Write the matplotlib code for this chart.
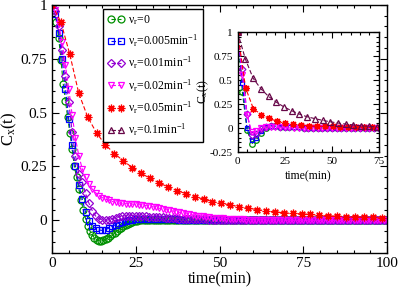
import numpy as np
import matplotlib.pyplot as plt
from matplotlib.ticker import MultipleLocator

plt.rcParams['font.family'] = ['Liberation Serif', 'DejaVu Serif']
plt.rcParams['mathtext.fontset'] = 'custom'
plt.rcParams['mathtext.rm'] = 'Liberation Serif'
plt.rcParams['mathtext.it'] = 'Liberation Serif:italic'

labels = ['ν$_{\\mathrm{r}}$=0',
          'ν$_{\\mathrm{r}}$=0.005min$^{\\mathrm{-1}}$',
          'ν$_{\\mathrm{r}}$=0.01min$^{\\mathrm{-1}}$',
          'ν$_{\\mathrm{r}}$=0.02min$^{\\mathrm{-1}}$',
          'ν$_{\\mathrm{r}}$=0.05min$^{\\mathrm{-1}}$',
          'ν$_{\\mathrm{r}}$=0.1min$^{\\mathrm{-1}}$']
colors = ['#009000', '#0000ff', '#9400d3', '#ff00ff', '#ff0000', '#670748']
markers = ['o', 's', 'D', 'v', (8, 2, 0), '^']

# ---- main panel data ----
t_green = np.arange(151) * 2 / 3
v_green = [1.0, 0.975, 0.92, 0.845, 0.745, 0.635, 0.555, 0.48, 0.405, 0.33,
           0.25, 0.2, 0.145, 0.095, 0.048, 0.008, -0.025, -0.05, -0.068, -0.082,
           -0.091, -0.095, -0.095, -0.092, -0.087, -0.08, -0.073, -0.065, -0.057, -0.049,
           -0.041, -0.034, -0.027, -0.021, -0.016, -0.011, -0.007, -0.004, -0.002, 0.0,
           0.001, 0.002, 0.002, 0.002, 0.002, 0.002, 0.002, 0.002, 0.002, 0.002,
           0.002, 0.002, 0.002, 0.002, 0.002, 0.001, 0.001, 0.001, 0.001, 0.001,
           0.001, 0.001, 0.001, 0.001, 0.001, 0.001, 0.001, 0.001, 0.001, 0.001,
           0.001, 0.001, 0.001, 0.001, 0.001, 0.0, 0.0, 0.0, 0.0, 0.0,
           0.0, 0.0, 0.0, 0.0, 0.0, 0.0, 0.0, 0.0, 0.0, 0.0,
           0.0, 0.0, 0.0, 0.0, 0.0, 0.0, 0.0, 0.0, 0.0, 0.0,
           0.0, 0.0, 0.0, 0.0, 0.0, 0.0, 0.0, 0.0, 0.0, 0.0,
           0.0, 0.0, 0.0, 0.0, 0.0, 0.0, 0.0, 0.0, 0.0, 0.0,
           0.0, 0.0, 0.0, 0.0, 0.0, 0.0, 0.0, 0.0, 0.0, 0.0,
           0.0, 0.0, 0.0, 0.0, 0.0, 0.0, 0.0, 0.0, 0.0, 0.0,
           0.0, 0.0, 0.0, 0.0, 0.0, 0.0, 0.0, 0.0, 0.0, 0.0,
           0.0]

t_min = np.arange(101)
v_blue = [1.0, 0.96, 0.87, 0.75, 0.61, 0.47, 0.35, 0.25, 0.165, 0.1,
          0.038, -0.002, -0.025, -0.038, -0.045, -0.047, -0.043, -0.036, -0.028, -0.02,
          -0.013, -0.007, -0.002, 0.001, 0.003, 0.005, 0.006, 0.006, 0.006, 0.006,
          0.005, 0.005, 0.005, 0.005, 0.004, 0.004, 0.004, 0.004, 0.003, 0.003,
          0.003, 0.003, 0.003, 0.002, 0.002, 0.002, 0.002, 0.002, 0.002, 0.002,
          0.001, 0.001, 0.001, 0.001, 0.001, 0.001, 0.001, 0.001, 0.001, 0.001,
          0.001, 0.001, 0.001, 0.0, 0.0, 0.0, 0.0, 0.0, 0.0, 0.0,
          0.0, 0.0, 0.0, 0.0, 0.0, 0.0, 0.0, 0.0, 0.0, 0.0,
          0.0, 0.0, 0.0, 0.0, 0.0, 0.0, 0.0, 0.0, 0.0, 0.0,
          0.0, 0.0, 0.0, 0.0, 0.0, 0.0, 0.0, 0.0, 0.0, 0.0,
          0.0]
v_purple = [1.0, 0.97, 0.9, 0.79, 0.67, 0.55, 0.41, 0.3, 0.215, 0.18,
            0.125, 0.08, 0.045, 0.02, 0.008, 0.002, 0.0, 0.002, 0.007, 0.012,
            0.016, 0.019, 0.021, 0.022, 0.022, 0.021, 0.02, 0.019, 0.018, 0.017,
            0.016, 0.015, 0.014, 0.013, 0.012, 0.011, 0.01, 0.009, 0.008, 0.008,
            0.007, 0.006, 0.006, 0.005, 0.005, 0.004, 0.004, 0.003, 0.003, 0.003,
            0.002, 0.002, 0.002, 0.002, 0.001, 0.001, 0.001, 0.001, 0.001, 0.001,
            0.001, 0.001, 0.0, 0.0, 0.0, 0.0, 0.0, 0.0, 0.0, 0.0,
            0.0, 0.0, 0.0, 0.0, 0.0, 0.0, 0.0, 0.0, 0.0, 0.0,
            0.0, 0.0, 0.0, 0.0, 0.0, 0.0, 0.0, 0.0, 0.0, 0.0,
            0.0, 0.0, 0.0, 0.0, 0.0, 0.0, 0.0, 0.0, 0.0, 0.0,
            0.0]
v_magenta = [1.0, 0.975, 0.91, 0.83, 0.72, 0.61, 0.49, 0.38, 0.3, 0.24,
             0.2, 0.168, 0.145, 0.128, 0.115, 0.105, 0.098, 0.092, 0.087, 0.083,
             0.08, 0.078, 0.077, 0.076, 0.075, 0.074, 0.072, 0.071, 0.068, 0.066,
             0.063, 0.06, 0.056, 0.053, 0.049, 0.046, 0.043, 0.04, 0.037, 0.034,
             0.03, 0.028, 0.025, 0.022, 0.02, 0.018, 0.016, 0.014, 0.012, 0.011,
             0.01, 0.009, 0.008, 0.007, 0.006, 0.005, 0.004, 0.004, 0.003, 0.003,
             0.002, 0.002, 0.002, 0.002, 0.001, 0.001, 0.001, 0.001, 0.001, 0.001,
             0.0, 0.0, 0.0, 0.0, 0.0, 0.0, 0.0, 0.0, 0.0, 0.0,
             0.0, 0.0, 0.0, 0.0, 0.0, 0.0, 0.0, 0.0, 0.0, 0.0,
             0.0, 0.0, 0.0, 0.0, 0.0, 0.0, 0.0, 0.0, 0.0, 0.0,
             0.0]

t_red = np.arange(38) * 2.66
v_red = [1.0, 0.92, 0.77, 0.59, 0.48, 0.405, 0.35, 0.31, 0.276, 0.245,
         0.218, 0.195, 0.174, 0.155, 0.138, 0.124, 0.11, 0.098, 0.087, 0.079,
         0.071, 0.063, 0.056, 0.05, 0.044, 0.039, 0.035, 0.032, 0.03, 0.027,
         0.024, 0.021, 0.019, 0.017, 0.016, 0.014, 0.013, 0.011]

# ---- inset data ----
t_in = np.arange(31) * 2.5
vi_green = [1.0, 0.38, -0.02, -0.165, -0.12, -0.05, 0.0, 0.02, 0.02, 0.015,
            0.01, 0.008, 0.007, 0.006, 0.005, 0.005, 0.005, 0.004, 0.004, 0.004,
            0.003, 0.003, 0.003, 0.003, 0.002, 0.002, 0.002, 0.002, 0.002, 0.002, 0.002]
vi_blue = [1.0, 0.47, 0.0, -0.12, -0.1, -0.03, 0.015, 0.025, 0.02, 0.015,
           0.01, 0.008, 0.007, 0.006, 0.005, 0.005, 0.005, 0.004, 0.004, 0.004,
           0.003, 0.003, 0.003, 0.003, 0.002, 0.002, 0.002, 0.002, 0.002, 0.002, 0.002]
vi_purple = [1.0, 0.62, 0.15, -0.075, -0.06, -0.01, 0.015, 0.02, 0.018, 0.014,
             0.01, 0.008, 0.007, 0.006, 0.005, 0.005, 0.005, 0.004, 0.004, 0.004,
             0.003, 0.003, 0.003, 0.003, 0.002, 0.002, 0.002, 0.002, 0.002, 0.002, 0.002]
vi_magenta = [1.0, 0.55, 0.14, -0.04, -0.03, 0.0, 0.01, 0.012, 0.01, 0.008,
              0.007, 0.006, 0.005, 0.005, 0.004, 0.004, 0.004, 0.003, 0.003, 0.003,
              0.003, 0.002, 0.002, 0.002, 0.002, 0.002, 0.002, 0.002, 0.002, 0.002, 0.002]
t_in_red = np.arange(19) * 4.2
vi_red = [1.0, 0.42, 0.2, 0.14, 0.1, 0.07, 0.05, 0.04, 0.03, 0.025,
          0.02, 0.018, 0.016, 0.014, 0.012, 0.011, 0.01, 0.01, 0.01]
t_in_tri = np.arange(19) * 4.1
vi_tri = [1.0, 0.72, 0.52, 0.41, 0.33, 0.27, 0.22, 0.18, 0.145, 0.117,
          0.098, 0.08, 0.065, 0.052, 0.041, 0.032, 0.024, 0.017, 0.012]


def draw(ax, t, v, i, ms, lw=0.8):
    filled = i == 4
    return ax.plot(t, v, linestyle=(0, (4, 2)), lw=lw, color=colors[i],
                   marker=markers[i], ms=ms, mew=0.9,
                   mfc=colors[i] if filled else 'none', mec=colors[i],
                   label=labels[i])[0]


def style(ax, xmaj, xmin, ymaj, ymin, fs, big, small):
    ax.xaxis.set_major_locator(MultipleLocator(xmaj))
    ax.xaxis.set_minor_locator(MultipleLocator(xmin))
    ax.yaxis.set_major_locator(MultipleLocator(ymaj))
    ax.yaxis.set_minor_locator(MultipleLocator(ymin))
    ax.tick_params(which='both', direction='in', top=True, right=True,
                   labelsize=fs, width=0.8)
    ax.tick_params(which='major', length=big)
    ax.tick_params(which='minor', length=small)
    for s in ax.spines.values():
        s.set_linewidth(1.0)


fig = plt.figure(figsize=(3.98, 2.89), dpi=100)
ax = fig.add_axes([0.1307, 0.126, 0.8417, 0.857])

handles = []
handles.append(draw(ax, t_green, v_green, 0, 5))
handles.append(draw(ax, t_min, v_blue, 1, 4.5))
handles.append(draw(ax, t_min, v_purple, 2, 4))
handles.append(draw(ax, t_min, v_magenta, 3, 5))
handles.append(draw(ax, t_red, v_red, 4, 5.5))

ax.set_xlim(0, 100)
ax.set_ylim(-0.15, 1.0)
style(ax, 25, 5, 0.25, 0.05, 11, 5, 2.5)
ax.set_yticks([0, 0.25, 0.5, 0.75, 1])
ax.set_yticklabels(['0', '0.25', '0.5', '0.75', '1'])
ax.set_xlabel('time(min)', fontsize=11.5)
ax.set_ylabel('C$_{\\mathrm{x}}$(t)', fontsize=12)
ax.xaxis.set_label_coords(0.5, -0.075)
ax.yaxis.set_label_coords(-0.1, 0.5)

# inset
ax2 = fig.add_axes([0.597, 0.474, 0.355, 0.415])
draw(ax2, t_in, vi_green, 0, 4)
draw(ax2, t_in, vi_blue, 1, 3.5)
draw(ax2, t_in, vi_purple, 2, 3.5)
draw(ax2, t_in, vi_magenta, 3, 4)
draw(ax2, t_in_red, vi_red, 4, 5)
handles.append(draw(ax2, t_in_tri, vi_tri, 5, 5))
ax2.set_xlim(0, 75)
ax2.set_ylim(-0.25, 1.0)
style(ax2, 25, 5, 0.25, 0.05, 8, 4, 2)
ax2.set_yticks([-0.25, 0, 0.25, 0.5, 0.75, 1])
ax2.set_yticklabels(['-0.25', '0', '0.25', '0.5', '0.75', '1'])
ax2.set_xlabel('time(min)', fontsize=8.5)
ax2.set_ylabel('C$_{\\mathrm{x}}$(t)', fontsize=8.5)
ax2.xaxis.set_label_coords(0.5, -0.15)
ax2.yaxis.set_label_coords(-0.19, 0.5)

leg = ax.legend(handles=handles, loc='upper left', bbox_to_anchor=(0.152, 0.984),
                borderaxespad=0, numpoints=2, fontsize=8.5, handlelength=1.5,
                handletextpad=0.3, labelspacing=0.5, fancybox=False,
                edgecolor='black', framealpha=1, borderpad=0.35)
leg.get_frame().set_linewidth(1.0)

fig.savefig('out.png', dpi=100)
